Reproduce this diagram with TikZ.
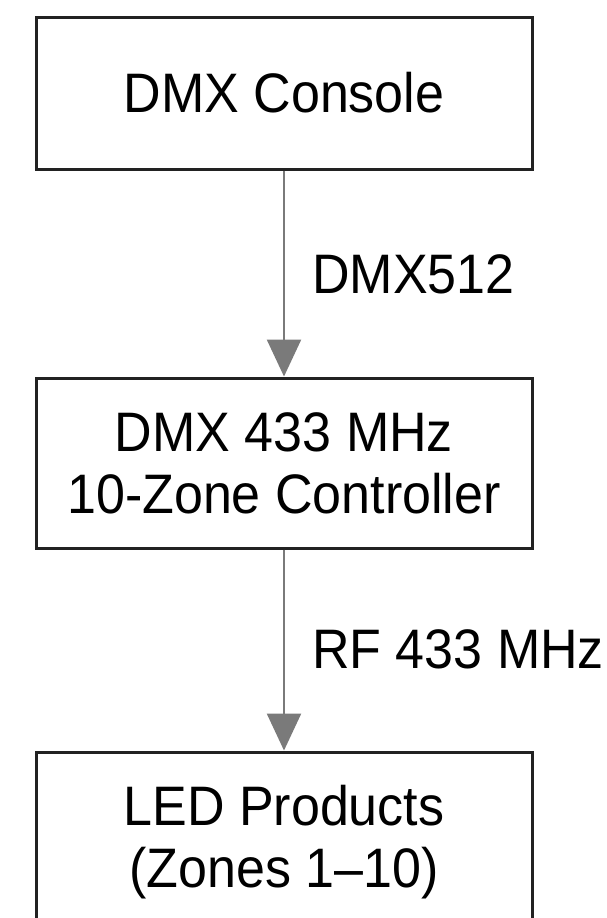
\documentclass[tikz,border=0pt]{standalone}
\usepackage{graphicx}
\usepackage{fontspec}
\setmainfont{Liberation Sans}
\usetikzlibrary{arrows.meta}
\definecolor{boxline}{HTML}{222222}
\definecolor{flowgray}{HTML}{7A7A7A}
\newcommand{\tallline}[1]{\scalebox{1}[1.07]{#1}}
\begin{document}
\begin{tikzpicture}[x=1pt,y=-1pt,
  box/.style={draw=boxline,line width=3pt,minimum width=496pt,inner sep=0pt,align=center,font=\fontsize{52}{62}\selectfont},
  flow/.style={draw=flowgray,line width=2.5pt,-{Triangle[width=34pt,length=37pt,fill=flowgray]}},
  lbl/.style={anchor=base west,inner sep=0pt,font=\fontsize{52}{62}\selectfont}]
\clip (0,0) rectangle (606,918);
\fill[white] (0,0) rectangle (606,918);
\node[box,minimum height=152pt] (console) at (284,93) {\tallline{DMX Console}};
\node[box,minimum height=170pt] (ctrl) at (284,463) {\tallline{DMX 433 MHz}\\\tallline{10-Zone Controller}};
\node[box,minimum height=180pt] (led) at (284,842) {\tallline{LED Products}\\\tallline{(Zones 1–10)}};
\draw[flow] (console) -- (ctrl);
\draw[flow] (ctrl) -- (led);
\node[lbl] (l1) at (312,293) {\tallline{DMX512}};
\node[lbl] (l2) at (312,668) {\tallline{RF 433 MHz}};
\end{tikzpicture}
\end{document}
